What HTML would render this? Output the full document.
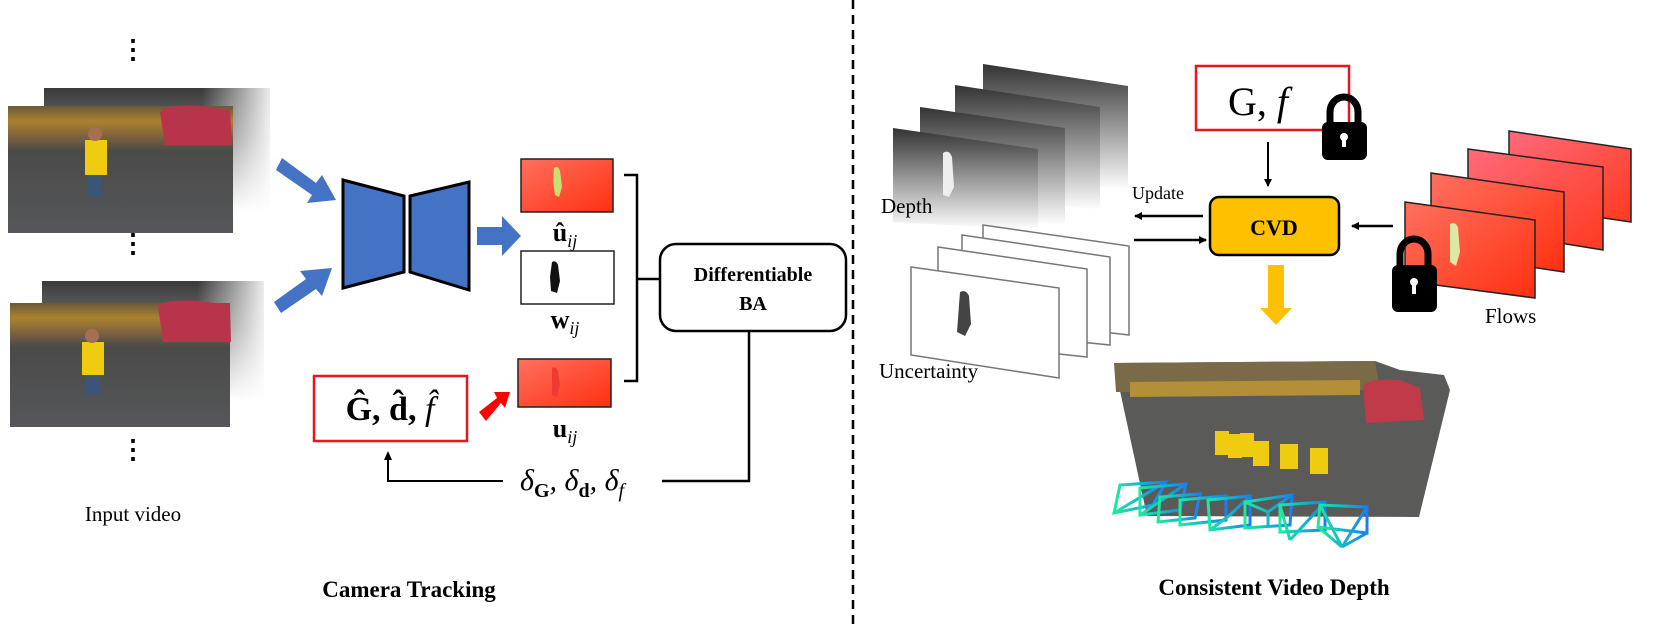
<!DOCTYPE html>
<html><head><meta charset="utf-8"><style>
html,body{margin:0;padding:0;background:#fff;}
svg{display:block;font-family:"Liberation Serif",serif;}
</style></head><body>
<svg width="1661" height="627" viewBox="0 0 1661 627" xmlns="http://www.w3.org/2000/svg">
<defs>
<linearGradient id="bk" x1="0" y1="0" x2="0" y2="1"><stop offset="0" stop-color="#3a3a3a"/><stop offset="0.4" stop-color="#777"/><stop offset="1" stop-color="#fff"/></linearGradient>
<linearGradient id="bkh" x1="0" y1="0" x2="1" y2="0"><stop offset="0.7" stop-color="#fff" stop-opacity="0"/><stop offset="1" stop-color="#fff" stop-opacity="0.9"/></linearGradient>
<linearGradient id="photo" x1="0" y1="0" x2="0" y2="1"><stop offset="0" stop-color="#6a5a3a"/><stop offset="0.12" stop-color="#a9822e"/><stop offset="0.25" stop-color="#7a6040"/><stop offset="0.35" stop-color="#4a4a48"/><stop offset="1" stop-color="#55575a"/></linearGradient>
<linearGradient id="flow" x1="0" y1="0" x2="1" y2="1"><stop offset="0" stop-color="#ff7060"/><stop offset="1" stop-color="#ff3010"/></linearGradient>
<linearGradient id="flow2" x1="0" y1="0" x2="1" y2="1"><stop offset="0" stop-color="#ff6a7a"/><stop offset="1" stop-color="#ff3a20"/></linearGradient>
<linearGradient id="dep" x1="0" y1="0" x2="0" y2="1"><stop offset="0" stop-color="#333"/><stop offset="0.5" stop-color="#999"/><stop offset="1" stop-color="#fff"/></linearGradient>
<linearGradient id="cam" x1="0" y1="0" x2="1" y2="0"><stop offset="0" stop-color="#1de9a0"/><stop offset="0.5" stop-color="#14b8c8"/><stop offset="1" stop-color="#1a7ef0"/></linearGradient>
<marker id="ah" markerWidth="8" markerHeight="8" refX="7" refY="4" orient="auto" markerUnits="userSpaceOnUse"><path d="M0,0 L8,4 L0,8 z" fill="#000"/></marker>
</defs>

<text x="133" y="58" font-size="26" text-anchor="middle" font-weight="bold">⋮</text>
<rect x="44" y="88" width="226" height="125" fill="url(#bk)"/>
<rect x="44" y="88" width="226" height="125" fill="url(#bkh)"/>
<rect x="8" y="106" width="225" height="127" fill="url(#photo)"/>
<path d="M160,112 Q165,104 200,106 L230,110 L232,145 L165,145 Z" fill="#b8344a"/>
<rect x="85" y="140" width="22" height="35" fill="#f0cc10"/>
<rect x="88" y="175" width="14" height="22" fill="#3b5578"/>
<circle cx="95" cy="134" r="7" fill="#a57050"/>
<text x="133" y="252" font-size="26" text-anchor="middle" font-weight="bold">⋮</text>
<rect x="42" y="281" width="222" height="121" fill="url(#bk)"/>
<rect x="42" y="281" width="222" height="121" fill="url(#bkh)"/>
<rect x="10" y="303" width="220" height="124" fill="url(#photo)"/>
<path d="M158,306 Q165,299 200,301 L230,305 L231,342 L163,342 Z" fill="#b8344a"/>
<rect x="82" y="342" width="22" height="33" fill="#f0cc10"/>
<rect x="86" y="375" width="14" height="20" fill="#3b5578"/>
<circle cx="92" cy="336" r="7" fill="#a57050"/>
<text x="133" y="458" font-size="26" text-anchor="middle" font-weight="bold">⋮</text>
<text x="133" y="521" font-size="21" text-anchor="middle">Input video</text>

<g fill="#4472c4">
<path d="M282,158 L316,183 L322,175 L336,200 L307,203 L312,195 L276,170 Z"/>
<path d="M274,302 L306,279 L300,271 L332,268 L322,296 L316,289 L281,313 Z"/>
<path d="M477,227 L502,227 L502,216 L521,236 L502,256 L502,245 L477,245 Z"/>
</g>
<path d="M343,180 L404,196 L404,272 L343,288 Z" fill="#4472c4" stroke="#000" stroke-width="3"/>
<path d="M410,196 L469,182 L469,290 L410,272 Z" fill="#4472c4" stroke="#000" stroke-width="3"/>

<rect x="521" y="159" width="92" height="53" fill="url(#flow)" stroke="#222" stroke-width="1.5"/>
<path d="M554,168 q4,-3 6,3 l2,16 l-3,10 l-4,-2 l-2,-14 z" fill="#c8e070"/>
<text x="565" y="241" font-size="26" text-anchor="middle" font-weight="bold">û<tspan font-style="italic" font-weight="normal" font-size="18" dy="6">ij</tspan></text>
<rect x="521" y="251" width="93" height="53" fill="#fff" stroke="#222" stroke-width="1.5"/>
<path d="M552,262 q4,-2 6,3 l2,16 l-3,12 l-6,-2 l-1,-14 z" fill="#111"/>
<text x="565" y="328" font-size="26" text-anchor="middle" font-weight="bold">w<tspan font-style="italic" font-weight="normal" font-size="18" dy="6">ij</tspan></text>
<rect x="518" y="359" width="93" height="48" fill="url(#flow)" stroke="#222" stroke-width="1.5"/>
<path d="M552,368 q4,-2 6,3 l2,14 l-3,12 l-5,-2 z" fill="#ee3a30"/>
<text x="565" y="437" font-size="26" text-anchor="middle" font-weight="bold">u<tspan font-style="italic" font-weight="normal" font-size="18" dy="6">ij</tspan></text>

<path d="M624,175 L637,175 L637,381 L624,381 M637,279 L660,279" fill="none" stroke="#000" stroke-width="2.5"/>
<rect x="660" y="244" width="186" height="87" rx="16" fill="#fff" stroke="#000" stroke-width="2.5"/>
<text x="753" y="281" font-size="20" text-anchor="middle" font-weight="bold">Differentiable</text>
<text x="753" y="310" font-size="20" text-anchor="middle" font-weight="bold">BA</text>

<rect x="314" y="376" width="153" height="65" fill="#fff" stroke="#e8141e" stroke-width="2.5"/>
<text x="390" y="420" font-size="34" text-anchor="middle" font-weight="bold">Ĝ, d̂, <tspan font-style="italic" font-weight="normal">f̂</tspan></text>
<path d="M479,412 L497,398 L494,392 L510,392 L505,408 L501,403 L486,421 Z" fill="#ff0000"/>

<path d="M749,331 L749,481 L662,481" fill="none" stroke="#000" stroke-width="2.5"/>
<path d="M503,481 L388,481 L388,458" fill="none" stroke="#000" stroke-width="2"/>
<path d="M384,460 L388,451 L392,460 Z" fill="#000"/>
<text x="520" y="490" font-size="30" font-style="italic">δ<tspan font-style="normal" font-weight="bold" font-size="20" dy="7">G</tspan><tspan dy="-7">, δ</tspan><tspan font-style="normal" font-weight="bold" font-size="20" dy="7">d</tspan><tspan dy="-7">, δ</tspan><tspan font-size="20" dy="7">f</tspan></text>

<text x="409" y="597" font-size="23" text-anchor="middle" font-weight="bold">Camera Tracking</text>

<line x1="853" y1="0" x2="853" y2="627" stroke="#000" stroke-width="2.5" stroke-dasharray="9,6"/>

<g>
<polygon points="983,64 1128,86 1128,190 983,175" fill="url(#dep)"/>
<polygon points="955,85 1100,107 1100,210 955,195" fill="url(#dep)"/>
<polygon points="920,107 1065,128 1065,225 920,215" fill="url(#dep)"/>
<polygon points="893,128 1038,149 1038,230 893,222" fill="url(#dep)"/>
<path d="M943,153 q6,-4 9,4 l2,30 l-5,10 l-6,-2 z" fill="#eee"/>
</g>
<text x="881" y="213" font-size="21">Depth</text>

<g fill="#fff" stroke="#777" stroke-width="1.5">
<polygon points="983,225 1129,246 1129,335 983,318"/>
<polygon points="962,235 1110,257 1110,345 962,330"/>
<polygon points="938,247 1087,269 1087,357 938,341"/>
<polygon points="911,267 1059,288 1059,378 911,355"/>
</g>
<path d="M960,292 q6,-3 9,4 l2,28 l-6,12 l-8,-4 z" fill="#444"/>
<text x="879" y="378" font-size="21">Uncertainty</text>

<rect x="1196" y="66" width="153" height="64" fill="#fff" stroke="#e8141e" stroke-width="2.5"/>
<text x="1258" y="115" font-size="40" text-anchor="middle">G, <tspan font-style="italic">f</tspan></text>
<g>
<path d="M1330,126 L1330,112 A14,15 0 0 1 1358,112 L1358,126" fill="none" stroke="#000" stroke-width="7"/>
<rect x="1322" y="122" width="45" height="38" rx="6" fill="#000"/>
<circle cx="1344" cy="137" r="4" fill="#fff"/><rect x="1342" y="137" width="4" height="10" fill="#fff"/>
</g>
<line x1="1268" y1="142" x2="1268" y2="186" stroke="#000" stroke-width="2" marker-end="url(#ah)"/>

<rect x="1210" y="197" width="129" height="58" rx="9" fill="#ffc000" stroke="#000" stroke-width="2.5"/>
<text x="1274" y="235" font-size="22" text-anchor="middle" font-weight="bold">CVD</text>
<text x="1132" y="199" font-size="18">Update</text>
<line x1="1203" y1="216" x2="1135" y2="216" stroke="#000" stroke-width="2.5" marker-end="url(#ah)"/>
<line x1="1134" y1="240" x2="1206" y2="240" stroke="#000" stroke-width="2.5" marker-end="url(#ah)"/>
<line x1="1393" y1="226" x2="1352" y2="226" stroke="#000" stroke-width="2.5" marker-end="url(#ah)"/>
<path d="M1268,265 L1284,265 L1284,308 L1292,308 L1276,325 L1260,308 L1268,308 Z" fill="#ffc000"/>

<g stroke="#222" stroke-width="1.5">
<polygon points="1509,131 1631,149 1631,222 1509,204" fill="url(#flow2)"/>
<polygon points="1468,149 1603,167 1603,250 1468,228" fill="url(#flow2)"/>
<polygon points="1431,173 1564,192 1564,272 1431,252" fill="url(#flow)"/>
<polygon points="1405,202 1535,220 1535,298 1405,281" fill="url(#flow)"/>
</g>
<path d="M1450,224 q6,-3 8,4 l2,24 l-4,14 l-6,-4 z" fill="#dfe8a0"/>
<g>
<path d="M1400,268 L1400,254 A14,15 0 0 1 1428,254 L1428,268" fill="none" stroke="#000" stroke-width="7"/>
<rect x="1392" y="265" width="45" height="47" rx="6" fill="#000"/>
<circle cx="1414" cy="282" r="4" fill="#fff"/><rect x="1412" y="282" width="4" height="12" fill="#fff"/>
</g>
<text x="1485" y="323" font-size="21">Flows</text>

<polygon points="1114,363 1375,361 1400,370 1444,375 1450,390 1419,517 1147,516" fill="#5a5a58"/>
<polygon points="1114,363 1375,361 1380,390 1116,392" fill="#7a6a48"/>
<polygon points="1130,382 1360,380 1360,395 1130,397" fill="#b39038"/>
<path d="M1363,386 Q1368,378 1400,380 L1420,388 L1424,420 L1366,423 Z" fill="#c03a4a"/>
<g fill="#f0cc10">
<rect x="1215" y="431" width="14" height="24"/><rect x="1228" y="434" width="14" height="24"/>
<rect x="1240" y="433" width="14" height="24"/><rect x="1253" y="441" width="16" height="25"/>
<rect x="1280" y="444" width="18" height="25"/><rect x="1310" y="448" width="18" height="26"/>
</g>
<g fill="none" stroke="url(#cam)" stroke-width="3">
<path d="M1114,513 L1120,485 L1166,482 L1153,505 Z M1114,513 L1166,482"/>
<path d="M1140,515 L1140,488 L1186,484 L1180,510 Z M1140,515 L1186,484"/>
<path d="M1158,522 L1160,497 L1200,494 L1195,518 Z"/>
<path d="M1180,525 L1180,500 L1226,496 L1226,520 Z"/>
<path d="M1210,530 L1208,500 L1250,496 L1250,525 Z M1230,515 L1210,530 M1230,515 L1250,496"/>
<path d="M1245,528 L1245,502 L1292,495 L1290,525 Z M1268,512 L1245,502 M1268,512 L1292,495 M1268,512 L1268,525"/>
<path d="M1280,532 L1280,505 L1325,502 L1325,530 Z M1290,540 L1280,505 M1290,540 L1325,502"/>
<path d="M1318,527 L1320,505 L1367,507 L1367,533 Z M1342,547 L1320,505 M1342,547 L1367,507 M1342,547 L1318,527 M1342,547 L1367,533"/>
</g>
<text x="1274" y="595" font-size="23" text-anchor="middle" font-weight="bold">Consistent Video Depth</text>
</svg>
</body></html>
